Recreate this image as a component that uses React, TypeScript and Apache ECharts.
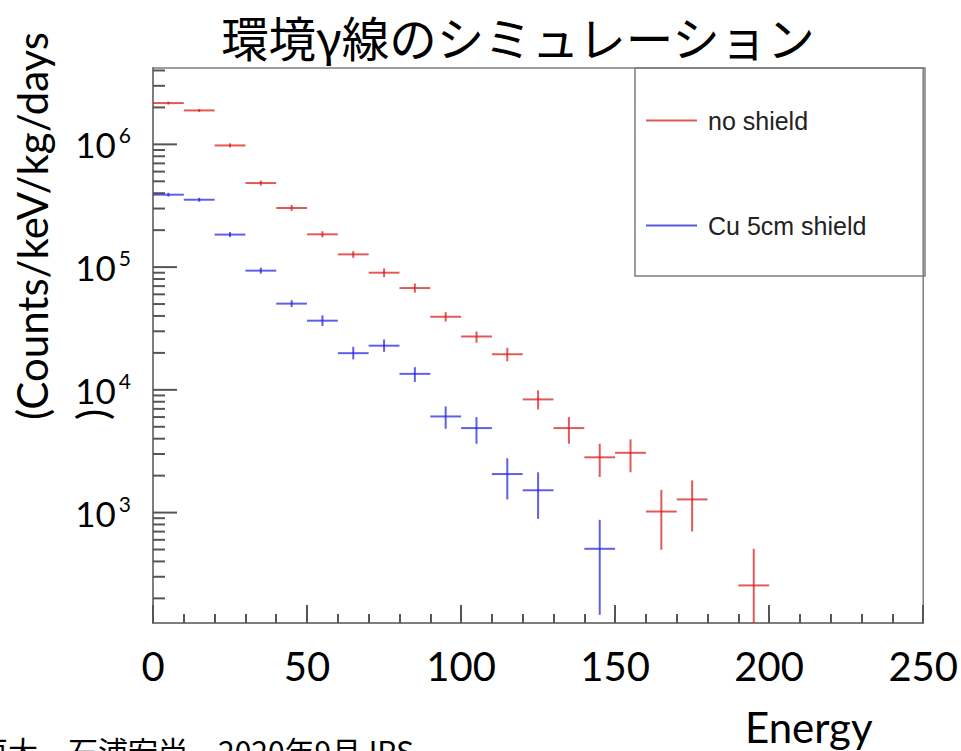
import React, { useEffect, useRef } from "react";
import * as echarts from "echarts";

// ---- data ----
const binWidth = 10;

const redX = [5, 15, 25, 35, 45, 55, 65, 75, 85, 95, 105, 115, 125, 135, 145, 155, 165, 175, 195];
const redY = [2.17e6, 1.89e6, 9.8e5, 4.84e5, 3.03e5, 1.85e5, 1.27e5, 9.0e4, 6.75e4, 3.94e4, 2.72e4, 1.95e4, 8.36e3, 4.88e3, 2.82e3, 3.07e3, 1.02e3, 1.28e3, 255];
const redLow = [2.11e6, 1.84e6, 9.44e5, 4.62e5, 2.87e5, 1.75e5, 1.19e5, 8.3e4, 6.2e4, 3.6e4, 2.42e4, 1.71e4, 6.92e3, 3.64e3, 1.95e3, 2.13e3, 498, 701, 1];
const redHigh = [2.23e6, 1.94e6, 1.02e6, 5.07e5, 3.21e5, 1.96e5, 1.35e5, 9.75e4, 7.35e4, 4.3e4, 2.99e4, 2.2e4, 9.9e3, 6.0e3, 3.64e3, 3.95e3, 1.53e3, 1.83e3, 507];

const blueX = [5, 15, 25, 35, 45, 55, 65, 75, 85, 95, 105, 115, 125, 145];
const blueY = [3.89e5, 3.54e5, 1.84e5, 9.36e4, 5.04e4, 3.66e4, 1.99e4, 2.29e4, 1.35e4, 6.07e3, 4.88e3, 2.06e3, 1.52e3, 507];
const blueLow = [3.75e5, 3.41e5, 1.76e5, 8.85e4, 4.72e4, 3.31e4, 1.77e4, 2.04e4, 1.16e4, 4.82e3, 3.64e3, 1.28e3, 889, 147];
const blueHigh = [4.03e5, 3.67e5, 1.93e5, 9.9e4, 5.38e4, 4.05e4, 2.24e4, 2.57e4, 1.53e4, 7.33e3, 6.0e3, 2.77e3, 2.13e3, 873];

const seriesNames = ["no shield", "Cu 5cm shield"];
const titleText = "環境γ線のシミュレーション";
const yAxisTitle = "(Counts/keV/kg/days\n)";
const xAxisTitle = "Energy";
const footerText = "神戸大　石浦宏尚　2020年9月JPS";

const xMin = 0;
const xMax = 250;
const xInterval = 50;
const yMin = 126;
const yMax = 4.19e6;
const yMajorExponents = [3, 4, 5, 6];

const RED = "rgba(215,25,25,0.72)";
const BLUE = "rgba(35,35,220,0.72)";

function buildRows(xs: number[], ys: number[], lo: number[], hi: number[]) {
  return xs.map((x, i) => [x, ys[i], lo[i], hi[i]]);
}

function yTickRows() {
  const rows: number[][] = [];
  for (let e = 2; e <= 6; e++) {
    for (let m = 1; m <= 9; m++) {
      const v = m * Math.pow(10, e);
      if (v >= yMin && v <= yMax) rows.push([0, v, m === 1 ? 1 : 0]);
    }
  }
  return rows;
}

export default function App() {
  const ref = useRef<HTMLDivElement>(null);

  useEffect(() => {
    if (!ref.current) return;
    const chart = echarts.init(ref.current, null, { renderer: "svg" });

    const errRender = (color: string) => (params: any, api: any) => {
      const x = api.value(0);
      const y = api.value(1);
      const lo = api.value(2);
      const hi = api.value(3);
      const c = api.coord([x, y]);
      const l = api.coord([x - binWidth / 2, y]);
      const r = api.coord([x + binWidth / 2, y]);
      const t = api.coord([x, hi]);
      const b = api.coord([x, lo]);
      const cs = params.coordSys;
      const yb = Math.min(b[1], cs.y + cs.height);
      const yt = Math.max(t[1], cs.y);
      return {
        type: "group",
        children: [
          { type: "line", shape: { x1: l[0], y1: c[1], x2: r[0], y2: c[1] }, style: { stroke: color, lineWidth: 2 } },
          { type: "line", shape: { x1: c[0], y1: yt, x2: c[0], y2: yb }, style: { stroke: color, lineWidth: 2 } },
        ],
      };
    };

    const option: any = {
      animation: false,
      backgroundColor: "#ffffff",
      grid: {
        left: 153,
        right: 36,
        top: 68,
        bottom: 128,
        show: true,
        borderColor: "#7d7d7d",
        borderWidth: 1.5,
        backgroundColor: "transparent",
      },
      legend: {
        orient: "vertical",
        left: 646,
        top: 108,
        padding: 0,
        itemGap: 80,
        itemWidth: 51,
        itemHeight: 2,
        textStyle: {
          fontFamily: "Liberation Sans",
          fontSize: 25,
          color: "#222",
          lineHeight: 24,
          padding: [0, 0, 0, 6],
        },
        data: [
          { name: seriesNames[0], icon: "rect", itemStyle: { color: "rgba(225,90,90,1)" } },
          { name: seriesNames[1], icon: "rect", itemStyle: { color: "rgba(90,90,225,1)" } },
        ],
      },
      xAxis: {
        type: "value",
        min: xMin,
        max: xMax,
        interval: xInterval,
        splitLine: { show: false },
        axisLine: { show: true, lineStyle: { color: "#7d7d7d", width: 2 } },
        axisTick: { show: true, inside: true, length: 18, lineStyle: { color: "#555", width: 2 } },
        minorTick: { show: true, splitNumber: 5, length: 9, lineStyle: { color: "#555", width: 2 } },
        axisLabel: {
          fontFamily: "Lato",
          fontSize: 40,
          color: "#000",
          margin: 43,
          verticalAlign: "middle",
        },
      },
      yAxis: {
        type: "log",
        logBase: 10,
        min: yMin,
        max: yMax,
        splitLine: { show: false },
        axisLine: { show: true, lineStyle: { color: "#7d7d7d", width: 2 } },
        axisTick: { show: false },
        axisLabel: {
          margin: 22,
          formatter: (v: number) => {
            const lg = Math.log10(v);
            const e = Math.round(lg);
            if (Math.abs(lg - e) > 1e-6 || yMajorExponents.indexOf(e) < 0) return "";
            return `{b|10}{s|${e}}`;
          },
          rich: {
            b: { fontFamily: "Lato", fontSize: 35, color: "#000", lineHeight: 40 },
            s: { fontFamily: "Lato", fontSize: 21, color: "#000", lineHeight: 21, verticalAlign: "top", padding: [0, 0, 0, 3] },
          },
        },
      },
      series: [
        {
          name: "yticks",
          type: "custom",
          silent: true,
          z: 1,
          data: yTickRows(),
          encode: { x: 0, y: 1 },
          renderItem: (params: any, api: any) => {
            const p = api.coord([0, api.value(1)]);
            const len = api.value(2) === 1 ? 24 : 12;
            return {
              type: "line",
              shape: { x1: p[0], y1: p[1], x2: p[0] + len, y2: p[1] },
              style: { stroke: "#555", lineWidth: 2 },
            };
          },
        },
        {
          name: seriesNames[0],
          type: "custom",
          z: 3,
          itemStyle: { color: RED },
          data: buildRows(redX, redY, redLow, redHigh),
          encode: { x: 0, y: 1 },
          renderItem: errRender(RED),
        },
        {
          name: seriesNames[1],
          type: "custom",
          z: 3,
          itemStyle: { color: BLUE },
          data: buildRows(blueX, blueY, blueLow, blueHigh),
          encode: { x: 0, y: 1 },
          renderItem: errRender(BLUE),
        },
      ],
      graphic: [
        {
          type: "rect",
          z: 10,
          shape: { x: 635, y: 68, width: 290, height: 208 },
          style: { fill: "none", stroke: "#7d7d7d", lineWidth: 1.5 },
        },
        {
          type: "text",
          x: 518,
          y: 36,
          style: {
            text: titleText,
            fontFamily: "Noto Sans CJK JP",
            fontSize: 47.5,
            fill: "#000",
            textAlign: "center",
            textVerticalAlign: "middle",
          },
        },
        {
          type: "text",
          x: 2,
          y: 420,
          rotation: Math.PI / 2,
          style: {
            text: yAxisTitle,
            fontFamily: "Lato",
            fontSize: 42,
            lineHeight: 60,
            fill: "#000",
            textAlign: "left",
            textVerticalAlign: "top",
          },
        },
        {
          type: "text",
          x: 745,
          y: 727,
          style: {
            text: xAxisTitle,
            fontFamily: "Lato",
            fontSize: 42,
            fill: "#000",
            textAlign: "left",
            textVerticalAlign: "middle",
          },
        },
        {
          type: "text",
          x: -52,
          y: 750,
          style: {
            text: footerText,
            fontFamily: "Noto Sans CJK JP",
            fontSize: 30,
            fill: "#000",
            textAlign: "left",
            textVerticalAlign: "middle",
          },
        },
      ],
    };

    chart.setOption(option);
    return () => chart.dispose();
  }, []);

  return (
    <div
      ref={ref}
      style={{ position: "fixed", left: 0, top: 0, width: 961, height: 751, background: "#fff" }}
    />
  );
}
